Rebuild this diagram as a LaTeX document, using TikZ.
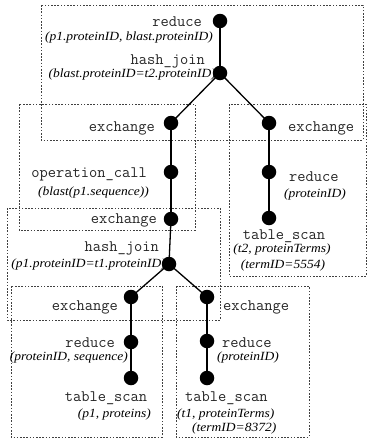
\documentclass[tikz,border=0pt]{standalone}
\usepackage{fontspec}
\setmainfont{Liberation Serif}
\newcommand{\argtext}[1]{\scalebox{1.08}[1]{#1}}
\begin{document}
\begin{tikzpicture}[x=1pt,y=-1pt,
  box/.style={draw=black!75,line width=0.8pt,dash pattern=on 1.6pt off 1.6pt},
  op/.style={inner sep=0pt,text=black!85,font=\fontsize{16}{16}\selectfont\ttfamily},
  arg/.style={inner sep=0pt,font=\fontsize{12.5}{12.5}\selectfont\itshape},
  dot/.style={circle,fill=black,inner sep=0pt,minimum size=14.5pt},
  edge/.style={line width=1.3pt}]
\useasboundingbox (0,0) rectangle (368,439);
% boxes
\draw[box] (41,5) rectangle (363,140);
\draw[box] (19,104) rectangle (195,230);
\draw[box] (229,104) rectangle (366,276);
\draw[box] (7,208) rectangle (220,320);
\draw[box] (11,286) rectangle (162,437);
\draw[box] (176,286) rectangle (309,437);
% labels
\node[op,anchor=east] (l1) at (202,22) {reduce};
\node[arg,anchor=east] (a1) at (213,37) {\argtext{(p1.proteinID, blast.proteinID)}};
\node[op,anchor=east] (l2) at (205,61) {hash\_join};
\node[arg,anchor=east] (a2) at (216,74) {\argtext{(blast.proteinID=t2.proteinID)}};
\node[op,anchor=east] (l3) at (155,128) {exchange};
\node[op,anchor=west] (l4) at (288,128) {exchange};
\node[op,anchor=east] (l5) at (147,174) {operation\_call};
\node[arg,anchor=east] (a5) at (149,192) {\argtext{(blast(p1.sequence))}};
\node[op,anchor=west] (l6) at (289,177) {reduce};
\node[arg] (a6) at (315,194) {\argtext{(proteinID)}};
\node[op,anchor=east] (l7) at (157,220) {exchange};
\node[op] (l8) at (284,236) {table\_scan};
\node[arg] (a8) at (282,249) {\argtext{(t2, proteinTerms)}};
\node[arg] (b8) at (283,265) {\argtext{(termID=5554)}};
\node[op,anchor=east] (l9) at (159,248) {hash\_join};
\node[arg,anchor=east] (a9) at (166,264) {\argtext{(p1.proteinID=t1.proteinID)}};
\node[op,anchor=east] (l10) at (118,307) {exchange};
\node[op,anchor=west] (l11) at (223,307) {exchange};
\node[op,anchor=east] (l12) at (115,343) {reduce};
\node[arg,anchor=east] (a12) at (128,357) {\argtext{(proteinID, sequence)}};
\node[op] (l13) at (106,398) {table\_scan};
\node[arg,anchor=east] (a13) at (151,414) {\argtext{(p1, proteins)}};
\node[op,anchor=west] (l14) at (222,343) {reduce};
\node[arg,anchor=west] (a14) at (217,357) {\argtext{(proteinID)}};
\node[op,anchor=west] (l15) at (185,398) {table\_scan};
\node[arg,anchor=west] (a15) at (177,414) {\argtext{(t1, proteinTerms)}};
\node[arg,anchor=west] (b15) at (192,428) {\argtext{(termID=8372)}};
% dots
\node[dot] (n1) at (220,21) {};
\node[dot] (n2) at (220,73) {};
\node[dot] (n3) at (171,123) {};
\node[dot] (n4) at (269,123) {};
\node[dot] (n5) at (171,172) {};
\node[dot] (n6) at (171,219) {};
\node[dot] (n7) at (269,172) {};
\node[dot] (n8) at (269,218) {};
\node[dot] (n9) at (169,264) {};
\node[dot] (n10) at (131,297) {};
\node[dot] (n11) at (207,297) {};
\node[dot] (n12) at (131,342) {};
\node[dot] (n13) at (131,378) {};
\node[dot] (n14) at (207,341) {};
\node[dot] (n15) at (207,378) {};
% edges
\draw[edge] (n1.center) -- (n2.center);
\draw[edge] (n2.center) -- (n3.center);
\draw[edge] (n2.center) -- (n4.center);
\draw[edge] (n3.center) -- (n5.center);
\draw[edge] (n5.center) -- (n6.center);
\draw[edge] (n6.center) -- (n9.center);
\draw[edge] (n9.center) -- (n10.center);
\draw[edge] (n9.center) -- (n11.center);
\draw[edge] (n10.center) -- (n12.center);
\draw[edge] (n12.center) -- (n13.center);
\draw[edge] (n11.center) -- (n14.center);
\draw[edge] (n14.center) -- (n15.center);
\draw[edge] (n4.center) -- (n7.center);
\draw[edge] (n7.center) -- (n8.center);
\end{tikzpicture}
\end{document}
